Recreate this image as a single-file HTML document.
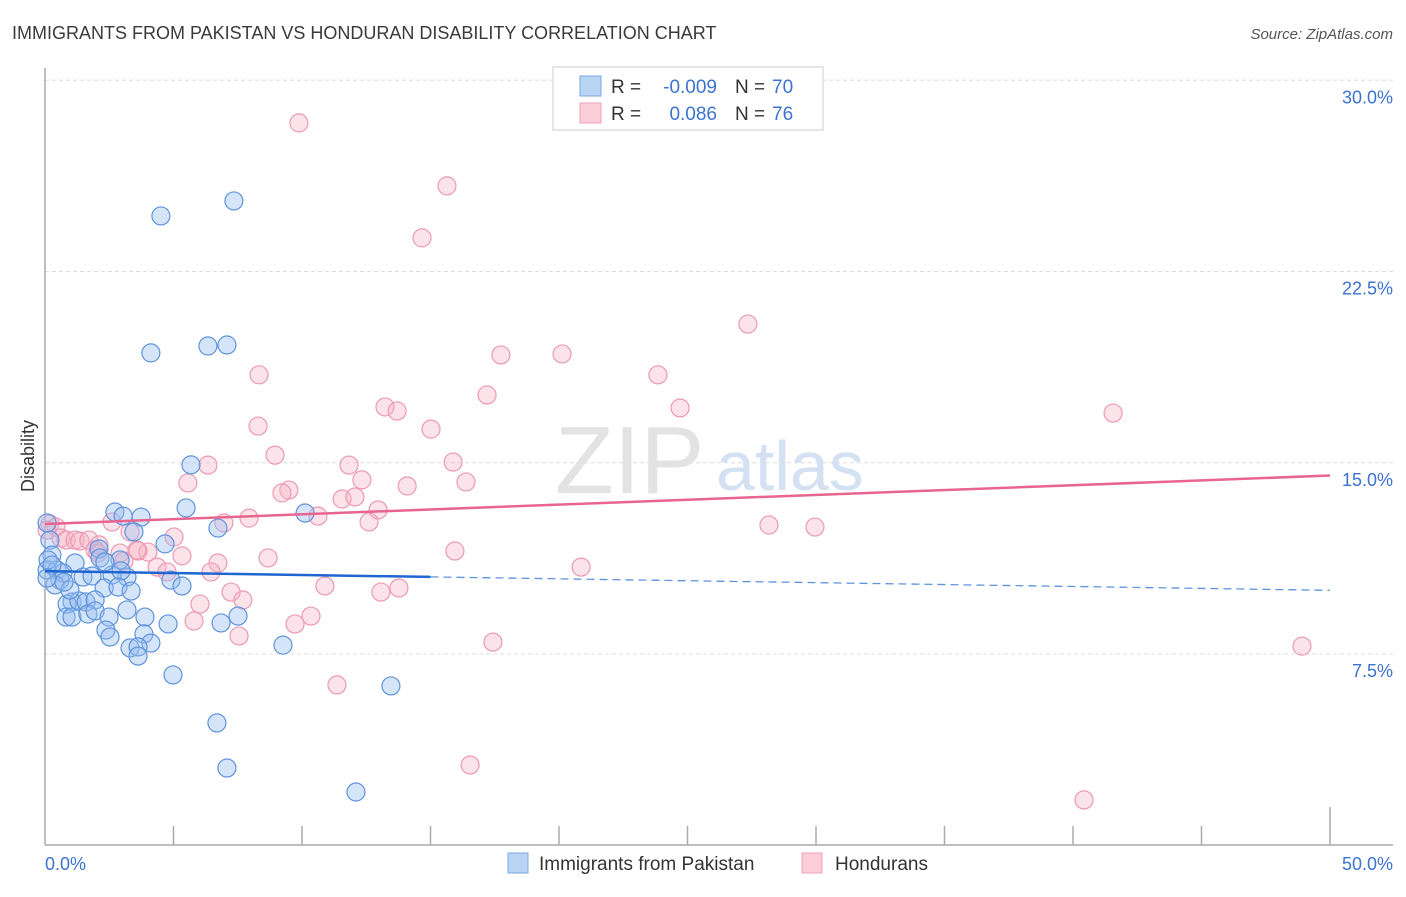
<!DOCTYPE html>
<html><head><meta charset="utf-8"><style>
body{margin:0;background:#fff;font-family:"Liberation Sans",sans-serif;}
svg text{font-family:"Liberation Sans",sans-serif;}
</style></head><body>
<svg id="chart" width="1406" height="892" viewBox="0 0 1406 892" xmlns="http://www.w3.org/2000/svg">
<text x="12" y="39" font-size="18" fill="#3a3a3a">IMMIGRANTS FROM PAKISTAN VS HONDURAN DISABILITY CORRELATION CHART</text>
<text x="1393" y="39" font-size="15" fill="#555" font-style="italic" text-anchor="end">Source: ZipAtlas.com</text>
<g id="grid"></g>
<g>
<text x="555" y="493" font-size="96" fill="#e3e3e3" font-family="Liberation Serif" >ZIP</text>
<text x="716" y="490" font-size="70" fill="#d3e1f3">atlas</text>
</g>
<line x1="45" y1="68" x2="45" y2="845" stroke="#aaa" stroke-width="1.5"/>
<line x1="45" y1="845" x2="1393" y2="845" stroke="#aaa" stroke-width="1.5"/>
<g id="ticks"></g>
<text transform="translate(34,456) rotate(-90)" font-size="18" fill="#333" text-anchor="middle">Disability</text>
<text x="45" y="870" font-size="18" fill="#3b73d1">0.0%</text>
<text x="1393" y="870" font-size="18" fill="#3b73d1" text-anchor="end">50.0%</text>
<g id="pinkPts"></g>
<g id="bluePts"></g>
<g id="trends"></g>
<g>
<rect x="553" y="67" width="270" height="63" fill="#fff" stroke="#ccc"/>
<rect x="580" y="76" width="21" height="20" fill="#b9d3f3" stroke="#7aa7e6"/>
<rect x="580" y="103" width="21" height="20" fill="#fbcdd9" stroke="#eea3bb"/>
<text x="611" y="93" font-size="19" fill="#333">R =</text>
<text x="717" y="93" font-size="19" fill="#3b73d1" text-anchor="end">-0.009</text>
<text x="735" y="93" font-size="19" fill="#333">N =</text>
<text x="772" y="93" font-size="19" fill="#3b73d1">70</text>
<text x="611" y="120" font-size="19" fill="#333">R =</text>
<text x="717" y="120" font-size="19" fill="#3b73d1" text-anchor="end">0.086</text>
<text x="735" y="120" font-size="19" fill="#333">N =</text>
<text x="772" y="120" font-size="19" fill="#3b73d1">76</text>
</g>
<g>
<rect x="508" y="853" width="20" height="20" fill="#b9d3f3" stroke="#7aa7e6"/>
<text x="539" y="870" font-size="19" fill="#333">Immigrants from Pakistan</text>
</g>
<g>
<rect x="802" y="853" width="20" height="20" fill="#fbcdd9" stroke="#eea3bb"/>
<text x="835" y="870" font-size="19" fill="#333">Hondurans</text>
</g>
</svg>
<script>
const yTicks=[7.5,15,22.5,30];
const yTickLabels=["7.5%","15.0%","22.5%","30.0%"];
const xTicks=[5,10,15,20,25,30,35,40,45,50];
const blueX=[4.51,7.35,4.12,6.34,7.08,5.68,5.49,10.12,2.72,3.04,3.74,6.73,3.46,4.67,2.10,0.08,0.19,0.27,1.17,2.92,0.08,0.47,0.58,0.70,0.39,1.48,1.83,3.19,2.61,2.96,2.30,2.84,3.35,4.90,5.33,1.05,0.86,1.32,1.60,1.95,3.19,0.82,1.05,1.67,1.95,2.49,3.89,4.79,6.85,7.51,2.37,2.53,3.85,4.12,3.31,3.62,3.62,9.26,4.98,13.46,6.69,7.08,12.10,2.14,2.33,0.12,0.27,0.97,0.74,0.08];
const blueY=[24.68,25.27,19.31,19.58,19.62,14.92,13.23,13.03,13.07,12.91,12.87,12.44,12.29,11.82,11.62,12.64,11.97,11.38,11.07,11.19,10.80,10.80,10.40,10.68,10.21,10.52,10.56,10.52,10.60,10.76,10.09,10.13,9.97,10.40,10.17,9.54,9.46,9.58,9.54,9.62,9.23,8.95,8.95,9.07,9.19,8.95,8.95,8.68,8.72,8.99,8.44,8.17,8.29,7.93,7.74,7.78,7.42,7.85,6.68,6.25,4.80,3.03,2.09,11.27,11.11,11.19,10.99,10.01,10.32,10.48];
const pinkX=[9.88,15.64,14.67,27.35,17.74,20.12,8.33,23.85,17.20,13.23,13.70,24.71,41.56,8.29,15.02,8.95,6.34,11.83,15.88,12.33,5.56,16.38,9.49,9.22,14.09,11.56,12.06,12.96,10.62,7.94,12.61,6.96,28.17,29.96,0.19,0.43,0.08,0.62,0.82,1.17,1.36,1.71,2.10,2.61,3.31,1.95,2.06,2.92,3.62,4.01,5.02,15.95,8.68,5.33,6.73,3.07,3.58,4.36,4.75,20.86,6.46,7.24,7.70,6.03,10.89,13.07,13.77,10.35,9.73,5.80,7.55,17.43,48.91,11.36,16.54,40.43];
const pinkY=[28.33,25.86,23.82,20.44,19.23,19.27,18.45,18.45,17.66,17.19,17.03,17.15,16.95,16.44,16.32,15.30,14.91,14.91,15.03,14.33,14.21,14.25,13.93,13.82,14.09,13.58,13.66,13.15,12.91,12.83,12.68,12.64,12.56,12.48,12.60,12.48,12.36,12.05,11.97,11.97,11.93,11.97,11.78,12.68,12.29,11.58,11.46,11.46,11.54,11.50,12.09,11.54,11.27,11.35,11.07,11.15,11.58,10.91,10.72,10.91,10.72,9.93,9.62,9.46,10.17,9.93,10.09,8.99,8.68,8.80,8.21,7.97,7.81,6.29,3.15,1.78];
const blueTrend=[10.75,10.0];
const pinkTrend=[12.6,14.5];
const blueSolidEnd=15;
const NS="http://www.w3.org/2000/svg";
const X=v=>45+v*25.7, Y=v=>845.3-v*25.5;
function mk(tag,attrs,parent){const e=document.createElementNS(NS,tag);for(const k in attrs)e.setAttribute(k,attrs[k]);parent.appendChild(e);return e;}
const grid=document.getElementById('grid');
yTicks.forEach((t,i)=>{
 const l=mk('line',{x1:45,x2:1393,y1:Y(t),y2:Y(t),stroke:'#ddd','stroke-dasharray':'4,3'},grid);
 
 
 const tx=mk('text',{x:1393,y:Y(t)+23,'font-size':18,fill:'#3b73d1','text-anchor':'end'},grid);
 tx.textContent=yTickLabels[i];
 
 
});
const ticks=document.getElementById('ticks');
xTicks.forEach(t=>{
 const l=mk('line',{x1:X(t),x2:X(t),y1:t===50?807:826,y2:845,stroke:'#aaa','stroke-width':1.5},ticks);
 
 
});
function pts(xs,ys,g,fill,stroke,name){
 xs.forEach((x,i)=>{
  const c=mk('circle',{cx:X(x),cy:Y(ys[i]),r:9,fill:fill,stroke:stroke,'stroke-width':1.2},g);
  
  
 });
}
pts(pinkX,pinkY,document.getElementById('pinkPts'),'rgba(248,178,198,0.38)','#eb9ab4','honduran-point');
pts(blueX,blueY,document.getElementById('bluePts'),'rgba(150,190,240,0.4)','#5f93dd','pakistan-point');
const tr=document.getElementById('trends');
const by=v=>blueTrend[0]+(blueTrend[1]-blueTrend[0])*v/50;
const b1=mk('line',{x1:X(0),y1:Y(by(0)),x2:X(blueSolidEnd),y2:Y(by(blueSolidEnd)),stroke:'#1f66d1','stroke-width':2.5},tr);


const b2=mk('line',{x1:X(blueSolidEnd),y1:Y(by(blueSolidEnd)),x2:X(50),y2:Y(by(50)),stroke:'#5f93dd','stroke-width':1.3,'stroke-dasharray':'8,5'},tr);


const p1=mk('line',{x1:X(0),y1:Y(pinkTrend[0]),x2:X(50),y2:Y(pinkTrend[1]),stroke:'#e8658f','stroke-width':2.5},tr);


</script>
</body></html>
